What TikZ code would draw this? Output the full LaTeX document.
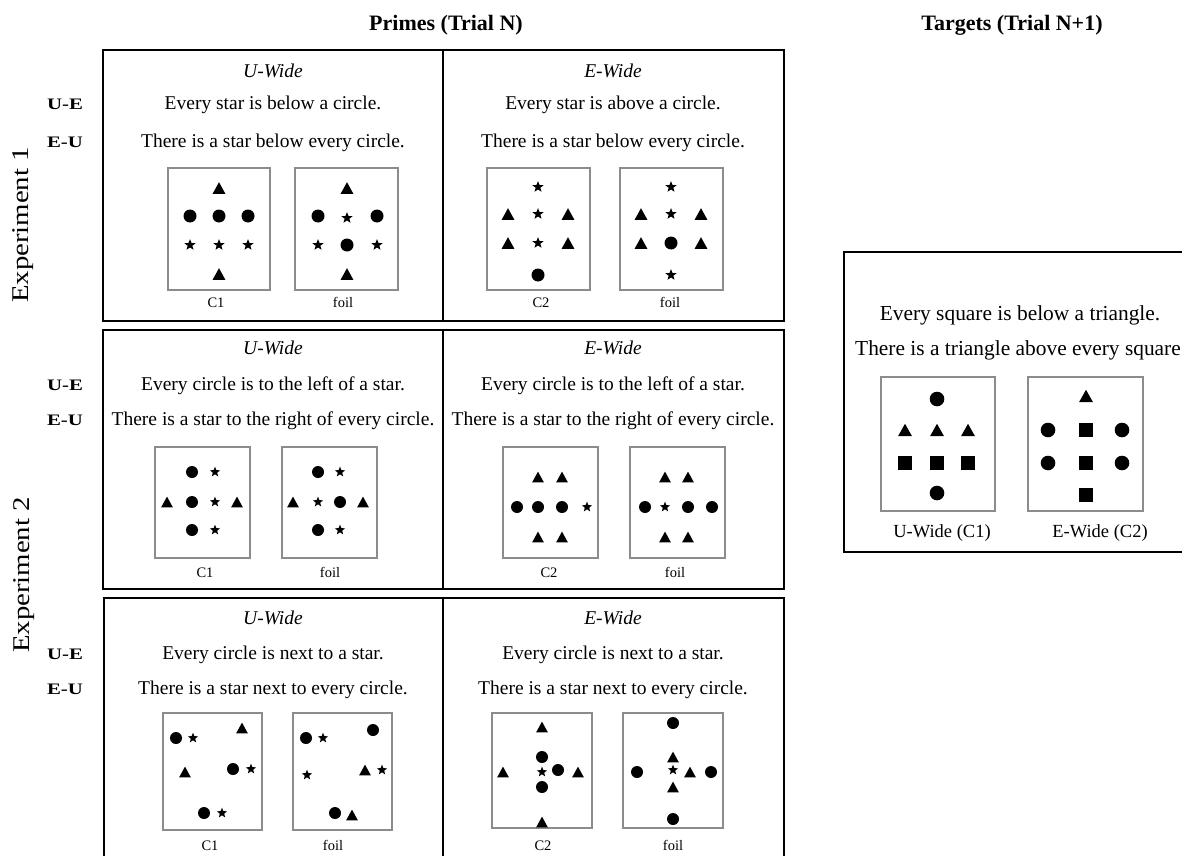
\documentclass[tikz,border=0pt]{standalone}
\usepackage{fontspec}
\setmainfont{Liberation Serif}
\definecolor{gframe}{HTML}{8C8C8C}
\newcommand{\Ci}[2]{\fill ({#1},{#2}) circle [radius=\rC];}
\newcommand{\Tr}[2]{\fill ({#1-\tW},{#2+\tH}) -- ({#1+\tW},{#2+\tH}) -- ({#1},{#2-\tH}) -- cycle;}
\newcommand{\St}[2]{\fill ({#1},{#2}) +(270:\sR) -- +(306:\sr) -- +(342:\sR) -- +(18:\sr) -- +(54:\sR) -- +(90:\sr) -- +(126:\sR) -- +(162:\sr) -- +(198:\sR) -- +(234:\sr) -- cycle;}
\newcommand{\Sq}[2]{\fill ({#1-\sQ},{#2-\sQ}) rectangle ({#1+\sQ},{#2+\sQ});}
\tikzset{
  panel/.style={draw=black, line width=2.2pt},
  gbox/.style={draw=gframe, line width=2pt},
  sent/.style={font=\fontsize{19.5}{23}\selectfont, inner sep=0pt, text height=0.68em, text depth=0.22em},
  cond/.style={sent, font=\fontsize{19.5}{23}\selectfont\itshape},
  lab/.style={font=\fontsize{14.5}{17}\selectfont, inner sep=0pt, text height=0.68em, text depth=0.22em},
  tsent/.style={font=\fontsize{21.4}{25}\selectfont, inner sep=0pt, text height=0.68em, text depth=0.22em},
  tlab/.style={font=\fontsize{18.5}{22}\selectfont, inner sep=0pt, text height=0.68em, text depth=0.22em},
  ttl/.style={font=\fontsize{22}{26}\selectfont\bfseries, inner sep=0pt},
  ue/.style={font=\fontsize{16}{19}\selectfont\bfseries, inner sep=0pt, text height=0.68em, text depth=0.22em},
  expl/.style={font=\fontsize{24}{28}\selectfont, inner sep=0pt, rotate=90}
}
\begin{document}
\begin{tikzpicture}[x=1pt,y=-1pt]
\useasboundingbox (0,0) rectangle (1182,856);
% titles
\node[ttl] (tP) at (446,25) {Primes (Trial N)};
\node[ttl] (tT) at (1012,25) {Targets (Trial N+1)};
% left labels
\node[expl] (ex1) at (23,225) {\scalebox{1.2}[1]{Experiment 1}};
\node[expl] (ex2) at (24,575) {\scalebox{1.2}[1]{Experiment 2}};
\node[ue] (ue1) at (65,107) {\scalebox{1.3}[1]{U-E}};
\node[ue] (eu1) at (65,145) {\scalebox{1.3}[1]{E-U}};
\node[ue] (ue2) at (65,388) {\scalebox{1.3}[1]{U-E}};
\node[ue] (eu2) at (65,423) {\scalebox{1.3}[1]{E-U}};
\node[ue] (ue3) at (65,657) {\scalebox{1.3}[1]{U-E}};
\node[ue] (eu3) at (65,692) {\scalebox{1.3}[1]{E-U}};
% panel frames
\draw[panel] (103,50) rectangle (443,321);
\draw[panel] (443,50) rectangle (784,321);
\draw[panel] (103,330) rectangle (443,589);
\draw[panel] (443,330) rectangle (784,589);
\draw[panel] (104,856) -- (104,598) -- (443,598) -- (443,856);
\draw[panel] (443,598) -- (784,598) -- (784,856);
\draw[panel] (1182,252) -- (844,252) -- (844,552) -- (1182,552);

% ---------------- Row 1 ----------------
\node[cond] (c11) at (273,75) {U-Wide};
\node[sent] (s11a) at (273,107) {Every star is below a circle.};
\node[sent] (s11b) at (273,145) {There is a star below every circle.};
\node[cond] (c12) at (613,75) {E-Wide};
\node[sent] (s12a) at (613,107) {Every star is above a circle.};
\node[sent] (s12b) at (613,145) {There is a star below every circle.};
\draw[gbox] (168,168) rectangle (270,290);
\draw[gbox] (295,168) rectangle (398,290);
\draw[gbox] (487,168) rectangle (590,290);
\draw[gbox] (620,168) rectangle (723,290);
\node[lab] (l11) at (216,305) {C1};
\node[lab] (l12) at (343,305) {foil};
\node[lab] (l13) at (541,305) {C2};
\node[lab] (l14) at (670,305) {foil};
\def\rC{6.5}\def\tW{6.4}\def\tH{5.8}\def\sR{5.9}\def\sr{2.5}
% C1
\Tr{219}{188}
\Ci{190}{216}\Ci{219}{216}\Ci{248}{216}
\St{190}{245}\St{219}{245}\St{248}{245}
\Tr{219}{274}
% foil
\Tr{347}{188}
\Ci{318}{216}\St{347}{218}\Ci{377}{216}
\St{318}{245}\Ci{347}{245}\St{377}{245}
\Tr{347}{274}
% C2
\St{538}{187}
\Tr{508}{214}\St{538}{214}\Tr{568}{214}
\Tr{508}{243}\St{538}{243}\Tr{568}{243}
\Ci{538}{275}
% foil
\St{671}{187}
\Tr{641}{214}\St{671}{214}\Tr{701}{214}
\Tr{641}{243}\Ci{671}{243}\Tr{701}{243}
\St{671}{275}

% ---------------- Row 2 ----------------
\node[cond] (c21) at (273,352) {U-Wide};
\node[sent] (s21a) at (273,388) {Every circle is to the left of a star.};
\node[sent] (s21b) at (273,423) {There is a star to the right of every circle.};
\node[cond] (c22) at (613,352) {E-Wide};
\node[sent] (s22a) at (613,388) {Every circle is to the left of a star.};
\node[sent] (s22b) at (613,423) {There is a star to the right of every circle.};
\draw[gbox] (155,447) rectangle (250,558);
\draw[gbox] (282,447) rectangle (377,558);
\draw[gbox] (503,447) rectangle (598,558);
\draw[gbox] (630,447) rectangle (725,558);
\node[lab] (l21) at (205,575) {C1};
\node[lab] (l22) at (330,575) {foil};
\node[lab] (l23) at (549,575) {C2};
\node[lab] (l24) at (675,575) {foil};
\def\rC{6}\def\tW{5.9}\def\tH{5.4}\def\sR{5.4}\def\sr{2.3}
% C1
\Ci{192}{472}\St{215}{472}
\Tr{167}{502}\Ci{192}{502}\St{215}{502}\Tr{237}{502}
\Ci{192}{530}\St{215}{530}
% foil
\Ci{318}{472}\St{340}{472}
\Tr{293}{502}\St{318}{502}\Ci{340}{502}\Tr{363}{502}
\Ci{318}{530}\St{340}{530}
% C2
\Tr{538}{477}\Tr{562}{477}
\Ci{517}{507}\Ci{538}{507}\Ci{562}{507}\St{587}{507}
\Tr{538}{537}\Tr{562}{537}
% foil
\Tr{665}{477}\Tr{688}{477}
\Ci{645}{507}\St{665}{507}\Ci{688}{507}\Ci{712}{507}
\Tr{665}{537}\Tr{688}{537}

% ---------------- Row 3 ----------------
\node[cond] (c31) at (273,622) {U-Wide};
\node[sent] (s31a) at (273,657) {Every circle is next to a star.};
\node[sent] (s31b) at (273,692) {There is a star next to every circle.};
\node[cond] (c32) at (613,622) {E-Wide};
\node[sent] (s32a) at (613,657) {Every circle is next to a star.};
\node[sent] (s32b) at (613,692) {There is a star next to every circle.};
\draw[gbox] (163,713) rectangle (262,830);
\draw[gbox] (293,713) rectangle (392,830);
\draw[gbox] (492,713) rectangle (592,828);
\draw[gbox] (623,713) rectangle (723,828);
\node[lab] (l31) at (210,848) {C1};
\node[lab] (l32) at (333,848) {foil};
\node[lab] (l33) at (543,848) {C2};
\node[lab] (l34) at (673,848) {foil};
% C1
\Ci{176}{738}\St{193}{738}
\Tr{242}{728}
\Tr{185}{772}
\Ci{233}{769}\St{251}{769}
\Ci{204}{813}\St{222}{813}
% foil
\Ci{306}{738}\St{323}{738}
\Ci{373}{730}
\St{307}{775}
\Tr{365}{770}\St{382}{770}
\Ci{335}{813}\Tr{352}{815}
% C2
\Tr{542}{727}
\Ci{542}{757}
\Tr{503}{772}\St{542}{772}\Ci{558}{770}\Tr{578}{772}
\Ci{542}{787}
\Tr{542}{822}
% foil
\Ci{673}{723}
\Tr{673}{757}
\Ci{637}{772}\St{673}{770}\Tr{690}{772}\Ci{711}{772}
\Tr{673}{787}
\Ci{673}{819}

% ---------------- Target ----------------
\node[tsent] (ts1) at (1020,318) {Every square is below a triangle.};
\node[tsent, anchor=west] (ts2) at (855,353) {There is a triangle above every square};
\draw[gbox] (881,377) rectangle (995,511);
\draw[gbox] (1028,377) rectangle (1143,511);
\node[tlab] (tl1) at (942,535) {U-Wide (C1)};
\node[tlab] (tl2) at (1100,535) {E-Wide (C2)};
\def\rC{7.3}\def\tW{7}\def\tH{6.2}\def\sQ{7}
% U-Wide (C1)
\Ci{937}{399}
\Tr{905}{430}\Tr{937}{430}\Tr{968}{430}
\Sq{905}{463}\Sq{937}{463}\Sq{968}{463}
\Ci{937}{493}
% E-Wide (C2)
\Tr{1086}{396}
\Ci{1048}{430}\Sq{1086}{430}\Ci{1122}{430}
\Ci{1048}{463}\Sq{1086}{463}\Ci{1122}{463}
\Sq{1086}{495}
\end{tikzpicture}
\end{document}
